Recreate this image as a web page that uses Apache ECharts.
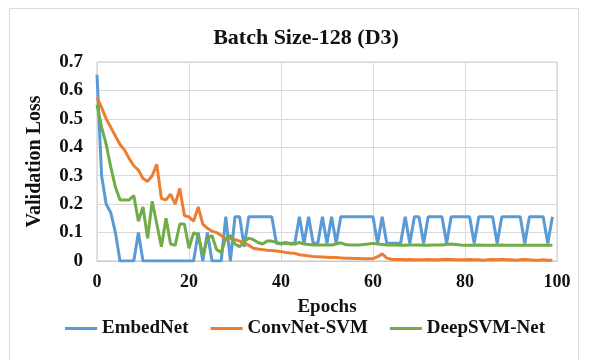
<!DOCTYPE html>
<html><head><meta charset="utf-8">
<script src="https://cdn.jsdelivr.net/npm/echarts@6/dist/echarts.min.js"></script>
<style>html,body{margin:0;padding:0;background:#fff}#c{width:589px;height:360px}</style>
</head><body><div id="c"></div>
<script>
var title = 'Batch Size-128 (D3)';
var xName = 'Epochs';
var yName = 'Validation Loss';
var seriesNames = ['EmbedNet', 'ConvNet-SVM', 'DeepSVM-Net'];
var epochs = [];
for (var i = 0; i < 100; i++) epochs.push(i);

var embedNet = [0.655,0.30,0.20,0.17,0.10,0,0,0,0,0.10,
0,0,0,0,0,0,0,0,0,0,
0,0,0.10,0,0.10,0,0,0,0.156,0,
0.156,0.156,0.05,0.156,0.156,0.156,0.156,0.156,0.156,0.062,
0.062,0.062,0.062,0.062,0.156,0.062,0.156,0.062,0.062,0.156,
0.062,0.156,0.062,0.156,0.156,0.156,0.156,0.156,0.156,0.156,
0.156,0.062,0.156,0.062,0.062,0.062,0.062,0.156,0.062,0.156,
0.156,0.062,0.156,0.156,0.156,0.156,0.062,0.156,0.156,0.156,
0.156,0.156,0.062,0.156,0.156,0.156,0.156,0.062,0.156,0.156,
0.156,0.156,0.156,0.062,0.156,0.156,0.156,0.156,0.062,0.156];

var convNetSVM = [0.575,0.54,0.50,0.47,0.44,0.41,0.39,0.36,0.335,0.32,
0.29,0.28,0.30,0.34,0.22,0.215,0.235,0.20,0.255,0.16,
0.155,0.14,0.19,0.13,0.115,0.105,0.10,0.09,0.075,0.08,
0.075,0.07,0.065,0.055,0.045,0.042,0.04,0.038,0.037,0.035,
0.033,0.03,0.028,0.027,0.022,0.02,0.018,0.016,0.015,0.014,
0.013,0.012,0.012,0.011,0.01,0.01,0.009,0.009,0.008,0.008,
0.008,0.015,0.025,0.01,0.006,0.005,0.005,0.004,0.005,0.004,
0.004,0.004,0.005,0.004,0.004,0.005,0.006,0.005,0.004,0.004,
0.004,0.005,0.004,0.004,0.003,0.004,0.005,0.004,0.006,0.004,
0.004,0.003,0.004,0.005,0.004,0.003,0.003,0.004,0.003,0.003];

var deepSVMNet = [0.55,0.47,0.41,0.33,0.26,0.215,0.215,0.215,0.23,0.14,
0.19,0.08,0.21,0.13,0.05,0.15,0.06,0.055,0.13,0.13,
0.045,0.10,0.09,0.02,0.08,0.09,0.04,0.03,0.08,0.09,
0.06,0.05,0.07,0.08,0.075,0.065,0.06,0.07,0.07,0.065,
0.06,0.065,0.06,0.06,0.065,0.06,0.058,0.056,0.056,0.056,
0.056,0.056,0.06,0.064,0.058,0.056,0.056,0.056,0.058,0.06,
0.062,0.06,0.058,0.056,0.056,0.056,0.055,0.055,0.056,0.056,
0.056,0.055,0.055,0.056,0.056,0.056,0.058,0.06,0.058,0.056,
0.055,0.055,0.055,0.056,0.055,0.055,0.055,0.055,0.056,0.055,
0.055,0.055,0.055,0.055,0.055,0.055,0.055,0.055,0.055,0.055];

var colors = ['#5B9BD5', '#ED7D31', '#70AD47'];
var allData = [embedNet, convNetSVM, deepSVMNet];

function pairs(arr) { return arr.map(function (v, i) { return [epochs[i], v]; }); }

var font = 'Liberation Serif, Times New Roman, serif';
var chart = echarts.init(document.getElementById('c'), null, {renderer: 'canvas'});
chart.setOption({
  animation: false,
  backgroundColor: '#fff',
  color: colors,
  title: {
    text: title, left: 301, top: 22, textAlign: 'center',
    textStyle: {fontFamily: font, fontWeight: 'bold', fontSize: 22, color: '#111'}
  },
  graphic: [{
    type: 'rect', shape: {x: 9.5, y: 8.5, width: 569, height: 365},
    style: {fill: 'none', stroke: '#d9d9d9', lineWidth: 1}, silent: true, z: -1
  }],
  legend: {
    data: seriesNames, left: 60, top: 314, icon: 'rect', itemWidth: 32, itemHeight: 3,
    itemGap: 22,
    textStyle: {fontFamily: font, fontWeight: 'bold', fontSize: 19, color: '#111'}
  },
  grid: {left: 97, right: 32, top: 62, bottom: 99, show: true, borderColor: '#c8c8c8', borderWidth: 1},
  xAxis: {
    type: 'value', min: 0, max: 100, interval: 20,
    name: xName, nameLocation: 'middle', nameGap: 37,
    nameTextStyle: {fontFamily: font, fontWeight: 'bold', fontSize: 19, color: '#111'},
    axisLine: {show: true, lineStyle: {color: '#c8c8c8'}},
    axisTick: {show: false},
    axisLabel: {fontFamily: font, fontWeight: 'bold', fontSize: 18, color: '#111', margin: 12},
    splitLine: {show: true, lineStyle: {color: '#d9d9d9', width: 1}}
  },
  yAxis: {
    type: 'value', min: 0, max: 0.7, interval: 0.1,
    name: yName, nameLocation: 'middle', nameGap: 52, nameRotate: 90,
    nameTextStyle: {fontFamily: font, fontWeight: 'bold', fontSize: 20, color: '#111'},
    axisLine: {show: false},
    axisTick: {show: false},
    axisLabel: {fontFamily: font, fontWeight: 'bold', fontSize: 19, color: '#111', margin: 14,
      formatter: function (v) { return v === 0 ? '0' : v.toFixed(1); }},
    splitLine: {show: true, lineStyle: {color: '#d9d9d9', width: 1}}
  },
  series: seriesNames.map(function (n, k) {
    return {
      name: n, type: 'line', data: pairs(allData[k]), showSymbol: false, symbol: 'none',
      lineStyle: {width: 3, color: colors[k]}, itemStyle: {color: colors[k]}
    };
  })
});
</script>
</body></html>
